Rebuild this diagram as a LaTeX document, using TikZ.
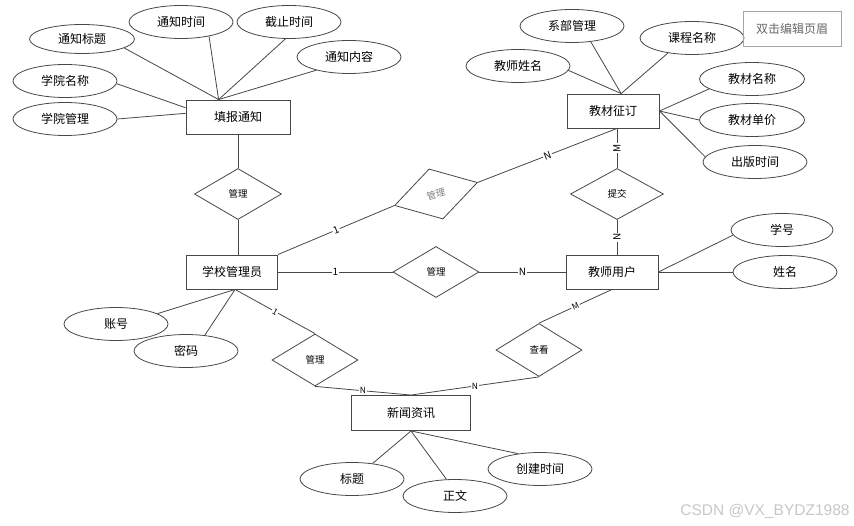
\documentclass[tikz,border=0pt]{standalone}
\usepackage{fontspec}
\setmainfont{Noto Sans CJK SC}
\newfontfamily\wmfont{Liberation Sans}
\usepackage{tikz}
\usetikzlibrary{shapes.geometric}

\begin{document}
\begin{tikzpicture}[
  x=1pt, y=-1pt,
  ent/.style={rectangle, draw=black!72, line width=0.9pt, minimum width=92pt,
              minimum height=34pt, inner sep=0pt, font=\fontsize{12}{14}\selectfont},
  attr/.style={ellipse, draw=black!72, line width=0.8pt, minimum width=104pt,
               minimum height=33pt, inner sep=0pt, font=\fontsize{12}{14}\selectfont},
  rel/.style={diamond, draw=black!72, line width=0.8pt, minimum width=86pt,
              minimum height=51pt, inner sep=0pt, font=\fontsize{9.5}{11}\selectfont},
  ln/.style={draw=black!72, line width=0.8pt},
  lab/.style={fill=white, inner sep=1pt, font=\fontsize{10}{12}\selectfont},
  slab/.style={lab, font=\fontsize{8.5}{10}\selectfont}
]
  \useasboundingbox (0,0) rectangle (854,526);

  % entities
  \node[ent, minimum width=104pt] (tbtz) at (238,117) {填报通知};
  \node[ent] (jczd) at (613,111) {教材征订};
  \node[ent, minimum width=91pt] (xxgly) at (232,272) {学校管理员};
  \node[ent] (jsyh) at (612,272) {教师用户};
  \node[ent, minimum width=119pt, minimum height=35pt] (xwzx) at (411,413) {新闻资讯};

  % relations
  \node[rel, minimum width=87pt] (gl1) at (238,194) {管理};
  \node[rel, rotate=15.5, text=black!50, minimum height=52pt] (gl2) at (436,194) {管理};
  \node[rel] (gl3) at (436,272) {管理};
  \node[rel, minimum width=93pt] (tj) at (617,194) {提交};
  \node[rel, minimum height=52pt] (gl4) at (315,360) {管理};
  \node[rel, minimum height=53pt] (ck) at (539,350) {查看};

  % attributes
  \node[attr, minimum width=105pt, minimum height=29pt] (tzbt) at (82,39) {通知标题};
  \node[attr] (tzsj) at (181,22) {通知时间};
  \node[attr] (jzsj) at (289,22) {截止时间};
  \node[attr] (tznr) at (349,57) {通知内容};
  \node[attr] (xymc) at (65,81) {学院名称};
  \node[attr] (xygl) at (65,119) {学院管理};
  \node[attr] (xbgl) at (572,26) {系部管理};
  \node[attr] (kcmc) at (692,38) {课程名称};
  \node[attr] (jsxm) at (518,66) {教师姓名};
  \node[attr, minimum width=105pt] (jcmc) at (752,79) {教材名称};
  \node[attr, minimum width=105pt] (jcdj) at (752,120) {教材单价};
  \node[attr] (cbsj) at (755,162) {出版时间};
  \node[attr, minimum width=102pt] (xh) at (782,230) {学号};
  \node[attr] (xm) at (785,272) {姓名};
  \node[attr] (zh) at (116,324) {账号};
  \node[attr] (mm) at (186,351) {密码};
  \node[attr] (bt) at (352,479) {标题};
  \node[attr] (zw) at (455,496) {正文};
  \node[attr] (cjsj) at (540,469) {创建时间};

  \node[rectangle, draw=black!35, text=black!60, minimum width=98pt, minimum height=35pt,
        font=\fontsize{12}{14}\selectfont] (ym) at (792,29) {双击编辑页眉};
  \node[text=black!22, font=\wmfont\fontsize{15.5}{18}\selectfont] (wm) at (765,511) {CSDN @VX\_BYDZ1988};

  % attribute lines
  \draw[ln] (tzbt.-12) -- (tbtz.138);
  \draw[ln] (tzsj.-27) -- (tbtz.138);
  \draw[ln] (jzsj.-102) -- (tbtz.138);
  \draw[ln] (tznr.-158) -- (tbtz.138);
  \draw[ln] (xymc.-3) -- (tbtz.170);
  \draw[ln] (xygl.east) -- (tbtz.176);
  \draw[ln] (jsxm.-5) -- (jczd.65);
  \draw[ln] (xbgl.-40) -- (jczd.65);
  \draw[ln] (kcmc.-148) -- (jczd.65);
  \draw[ln] (jcmc.-167) -- (jczd.east);
  \draw[ln] (jcdj.west) -- (jczd.east);
  \draw[ln] (cbsj.174) -- (jczd.east);
  \draw[ln] (xh.-174) -- (jsyh.east);
  \draw[ln] (xm.west) -- (jsyh.east);
  \draw[ln] (zh.14) -- (xxgly.-80);
  \draw[ln] (mm.40) -- (xxgly.-80);
  \draw[ln] (bt.37) -- (xwzx.south);
  \draw[ln] (zw.117) -- (xwzx.south);
  \draw[ln] (cjsj.145) -- (xwzx.south);

  % relation lines
  \draw[ln] (tbtz.south) -- (gl1.north);
  \draw[ln] (gl1.south) -- (gl1.south |- xxgly.north);
  \draw[ln] (xxgly.north east) -- node[lab, sloped] {1} (gl2.west);
  \draw[ln] (gl2.east) -- node[lab, sloped] {N} (jczd.south -| tj.north);
  \draw[ln] (jczd.south -| tj.north) -- node[lab, rotate=90] {M} (tj.north);
  \draw[ln] (tj.south) -- node[lab, rotate=90] {N} (tj.south |- jsyh.north);
  \draw[ln] (xxgly.east) -- node[lab] {1} (gl3.west);
  \draw[ln] (gl3.east) -- node[lab] {N} (jsyh.west);
  \draw[ln] (xxgly.-80) -- node[slab, sloped] {1} (gl4.north);
  \draw[ln] (gl4.south) -- node[slab] {N} (xwzx.north);
  \draw[ln] (jsyh.south) -- node[slab, sloped] {M} (ck.north);
  \draw[ln] (ck.south) -- node[slab] {N} (xwzx.north);
\end{tikzpicture}
\end{document}
